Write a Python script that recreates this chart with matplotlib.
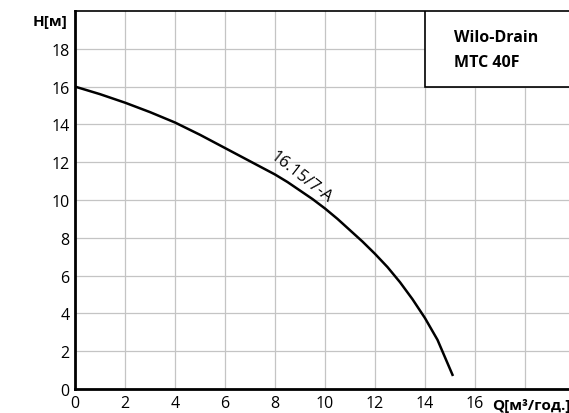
import matplotlib.pyplot as plt
import matplotlib.patches as patches

plt.rcParams['font.family'] = ['Open Sans', 'DejaVu Sans']

q = [0, 1, 2, 3, 4, 5, 6, 7, 8, 8.5, 9, 9.5, 10, 10.5, 11, 11.5, 12, 12.5, 13, 13.5, 14, 14.5, 15.1]
h = [16.0, 15.6, 15.15, 14.65, 14.1, 13.45, 12.75, 12.05, 11.35, 10.95, 10.5, 10.05, 9.55, 9.0, 8.4, 7.8, 7.15, 6.45, 5.65, 4.75, 3.75, 2.6, 0.75]
xticks = [0, 2, 4, 6, 8, 10, 12, 14, 16]
yticks = [0, 2, 4, 6, 8, 10, 12, 14, 16, 18]
curve_name = '16.15/7-A'
title_lines = 'Wilo-Drain\nMTC 40F'

fig = plt.figure(figsize=(5.69, 4.14), dpi=100)
ax = fig.add_axes([75 / 569, 24 / 414, 500 / 569, 378 / 414])
ax.set_xlim(0, 20)
ax.set_ylim(0, 20)
ax.set_xticks(xticks)
ax.set_yticks(yticks)
ax.grid(True, color='#c4c4c4', linewidth=0.9)
ax.set_xticks([18], minor=True)
ax.grid(True, which='minor', axis='x', color='#c4c4c4', linewidth=0.9)
ax.tick_params(which='both', length=0, labelsize=11.5, pad=4)

ax.spines['left'].set_linewidth(2)
ax.spines['bottom'].set_linewidth(2)
ax.spines['top'].set_linewidth(1.2)
ax.spines['right'].set_visible(False)

ax.plot(q, h, color='black', linewidth=1.8)
ax.text(9.05, 11.25, curve_name, rotation=-38, fontsize=12,
        ha='center', va='center')

box = patches.Rectangle((14, 16), 6, 4, facecolor='white', edgecolor='black',
                        linewidth=1.2, zorder=3)
ax.add_patch(box)
ax.text(15.15, 17.95, title_lines, fontsize=11.5, fontweight='bold',
        ha='left', va='center', linespacing=1.75, zorder=4)

fig.text(68 / 569, 1 - 22 / 414, 'H[м]', fontsize=11, fontweight='bold',
         ha='right', va='center')
fig.text(492 / 569, 1 - 406 / 414, 'Q[м³/год.]', fontsize=11, fontweight='bold',
         ha='left', va='center')

fig.savefig('out.png', dpi=100)
